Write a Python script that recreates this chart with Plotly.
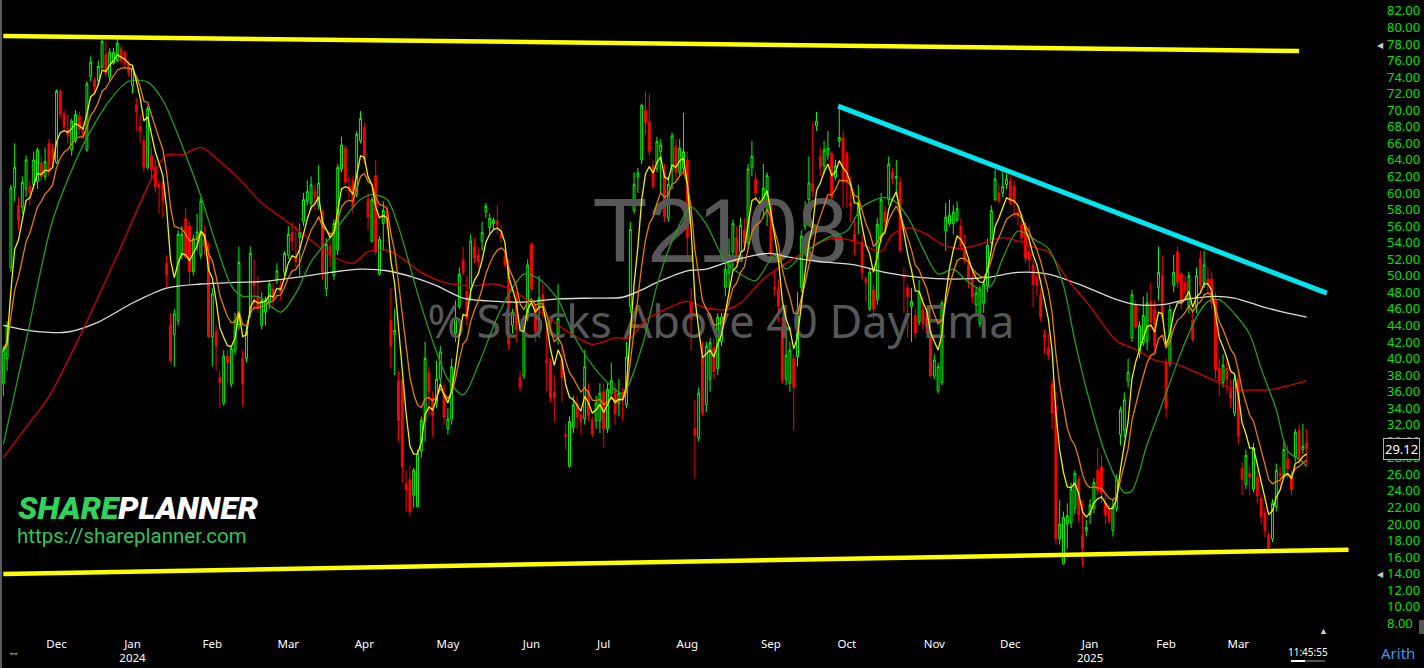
import numpy as np
import pandas as pd
import plotly.graph_objects as go

# ---------------- data (T2108 daily candles) ----------------
holidays = ["2023-11-23", "2023-12-25", "2024-01-01", "2024-01-15", "2024-02-19",
            "2024-03-29", "2024-05-27", "2024-06-19", "2024-07-04", "2024-09-02",
            "2024-11-28", "2024-12-25", "2025-01-01", "2025-01-09", "2025-01-20",
            "2025-02-17"]
first_day = "2023-11-10"
last_day = "2025-03-27"

opens = [37, 40, 51, 60.6, 58.5, 58.3, 60.5, 60.8, 61, 61.4, 63.6, 62, 66, 65.5, 63.7, 72.3, 69.5, 67.7, 65.2, 66.3,
         69.3, 67.5, 65.2, 74.1, 73.6, 73.6, 75.2, 76.7, 74, 75.7, 76, 77.4, 77, 75.6, 73, 70.6, 68, 66.3, 63.1, 64.5,
         63.1, 61, 61.3, 51.5, 44, 42.9, 44.6, 52.5, 56.9, 56, 50.5, 54.5, 52.5, 55, 52.4, 42.6, 43.2, 37.7, 34.6, 40.3,
         36.9, 41, 44.1, 40, 40, 45.5, 49.3, 47.5, 44, 45.6, 46.7, 48.4, 49.6, 48.8, 50.4, 52.5, 55.2, 52.3, 54.6, 56.5,
         59, 58.8, 60.2, 58.5, 57.7, 48.4, 53.6, 50, 53.1, 62.9, 65.4, 60.8, 61.5, 59.8, 66.3, 67.9, 59.2, 54.2, 62.1, 50.2,
         56.3, 57.9, 44.6, 42.9, 37.3, 37.3, 24.8, 25.4, 23.5, 22.1, 28.8, 32.5, 38.3, 35.2, 34.6, 37.5, 35.8, 31.5, 32.7, 43,
         46.3, 51.9, 48.1, 48.4, 53.5, 52.5, 54.2, 57.7, 55.8, 56.3, 56.6, 55.2, 52.3, 51, 44, 47.1, 37.7, 37.9, 45, 53.8,
         46.3, 46.3, 47.7, 39.8, 39.6, 35.9, 43, 39.8, 30.8, 27, 31.7, 34.6, 33.1, 32.7, 36.2, 32.5, 32.5, 32.5, 36, 31.5,
         35.8, 36.3, 34.6, 35.7, 34.4, 46.3, 57.9, 62, 64, 70, 68.5, 63.3, 62.9, 65, 62.5, 57, 62.9, 65.6, 62.5, 63,
         64, 46.7, 31.5, 30.4, 40.2, 34.4, 37.5, 41.3, 38.8, 42, 48.6, 50.4, 52.9, 54.6, 52.9, 55.5, 54, 63.1, 61.7, 58.5,
         58.8, 58, 58.5, 48.6, 48.3, 43.8, 37.5, 37, 40, 40.2, 48.6, 56, 59.2, 61.1, 68.1, 64.4, 63.3, 64.6, 64.8, 61.9,
         66.3, 66.7, 64.8, 58.8, 55, 57.3, 54, 49.6, 46, 48.3, 47.1, 54.6, 57.7, 59.2, 62.5, 61.8, 61.3, 50, 48.5, 46.3,
         45.2, 44.4, 45.9, 45, 43.3, 37.9, 36.1, 37.1, 55.4, 56.3, 56.3, 56.7, 56, 53.5, 51.3, 49.8, 46.5, 44.2, 46.7, 48.8,
         54, 59.2, 60, 60, 61, 61.4, 60.8, 57.7, 56.2, 55.8, 52.9, 51.3, 49.8, 47.7, 42.9, 41.3, 36.9, 34.2, 18.2, 15.2,
         20, 20.2, 21.9, 25.4, 18.6, 19.2, 21.1, 21.9, 26.5, 26.9, 22.5, 21.7, 19.2, 21.9, 30.8, 31.3, 37.3, 42.5, 46.5, 40.6,
         41.9, 42.1, 46.9, 45.9, 48.6, 50, 39.6, 39.4, 48.8, 52.9, 50.2, 49.2, 46.3, 44.6, 46.3, 52.1, 49.2, 49.6, 49.6, 47.1,
         38.8, 37.1, 38.8, 36.2, 33.4, 37.5, 26.7, 24.8, 26.1, 24.2, 25.7, 23.1, 21.3, 18.6, 18.2, 22.1, 26.1, 25.9, 27.9, 25.7,
         28.1, 31.3, 29, 29.8]
highs = [41.5, 44.5, 61, 66, 59.5, 62, 64.5, 61.5, 65, 65.5, 64.5, 65.5, 66.5, 66, 72.5, 72.5, 70, 69.5, 69, 70,
         69.8, 68.5, 73.5, 76.5, 74, 76, 78.5, 78.3, 77.5, 77.5, 78.6, 77.8, 77.2, 76, 75.5, 71.5, 69.5, 67, 70.5, 65.5,
         64, 61.5, 61.5, 52.5, 45.5, 46, 55.5, 56, 58.2, 56.5, 55, 57.5, 59.5, 56, 54, 48.5, 44, 38.5, 41, 41,
         41.5, 45.5, 53.5, 41, 44, 53.5, 52, 50, 48, 47.5, 49.5, 49, 51.5, 49.5, 53, 56, 56.5, 56, 56.3, 60,
         61.5, 62, 61, 63.4, 58, 54.5, 55, 56.8, 63.5, 66.8, 65.8, 62, 62, 67.5, 69.9, 68.5, 60, 59.5, 64, 54.8,
         59, 58.5, 48.5, 46, 38.5, 37.5, 26.5, 27, 26.8, 29, 33, 42, 39, 36, 39.7, 41.5, 37, 34, 40, 47,
         51, 53.5, 50, 55, 54.5, 53.5, 56.5, 58.8, 57.5, 57, 58.5, 56, 53, 52, 46, 48, 38.5, 43.5, 52, 54,
         46.5, 50, 49, 44, 40, 38, 49, 41.5, 32, 33, 35.5, 35.5, 33.5, 41, 37, 33, 35.5, 37, 37, 37,
         39.5, 37, 37.5, 36.5, 42, 56.5, 62.5, 63, 70.8, 72.3, 72, 64, 66.8, 66.5, 63.5, 62, 67.3, 66.5, 66.5, 69.7,
         65, 48.5, 35, 36.5, 42, 42, 42.5, 42.5, 45.5, 45.5, 52, 54.5, 56.8, 56, 57, 57, 63.5, 66.3, 62.5, 59.5,
         63.5, 62.5, 59.5, 50.5, 49.5, 45, 44, 42, 40.5, 48, 55.5, 59, 64.4, 68.5, 69.8, 65.5, 66.3, 67.5, 65, 64,
         70.1, 67.5, 65, 62, 57, 61, 55, 50, 51, 49, 57, 60, 58.5, 64.4, 63, 64, 62, 51, 49, 48.5,
         46, 49.5, 47.5, 46, 44, 40.5, 39.5, 47, 58.8, 59.2, 58.5, 59, 57, 55, 52, 50.5, 48.5, 48.8, 49.5, 54.5,
         58.5, 62.8, 61, 62.5, 62.3, 62, 61.5, 58.5, 57.5, 56.5, 56, 52, 50.5, 48.5, 43.5, 43, 37.5, 36, 22.9, 21.5,
         22.5, 25, 26.5, 25.8, 22.8, 20.5, 23, 25.5, 29.2, 28.3, 23.5, 22.5, 23, 26, 34.2, 35.9, 40, 48.3, 47, 44.5,
         47.5, 48, 49.2, 47, 53.5, 52.5, 40, 46.5, 52.5, 53.5, 50.5, 50, 50.5, 46, 51, 53, 53, 51, 50.5, 48,
         40, 40.5, 40, 37.5, 38, 38.5, 27.5, 29, 27, 29.8, 26.5, 23.8, 22, 19, 23, 27.3, 27, 30, 29.5, 26.5,
         31.5, 32, 32.1, 31.5]
lows = [35.5, 38.5, 50.5, 59, 55.5, 57.5, 59.5, 58.5, 60.5, 60.5, 61.5, 61.5, 62, 63, 63.5, 69, 67.5, 66, 64.5, 66,
        67, 66.5, 65, 73.5, 72, 73, 75, 74, 73.5, 75.5, 75.8, 75.5, 75, 74, 72, 67.5, 66, 62.5, 62.8, 61.5,
        60, 57.5, 57, 48.5, 39.5, 39, 44, 52, 52, 49, 50, 53, 52, 52.5, 42.5, 39, 38.5, 34, 34.3, 37,
        36.5, 40.5, 43.5, 34.2, 39.5, 45, 46, 45.5, 43.5, 44, 46, 46, 49, 47, 50, 52, 53, 51, 50, 56,
        58.5, 58, 58, 58, 49.5, 47.5, 51, 49.5, 52.5, 62.5, 61, 59.5, 57.5, 59.5, 66, 63.5, 55.5, 54, 52.5, 50,
        53, 55.5, 38.8, 38, 30, 25, 21.5, 20.9, 22, 22, 28, 30, 33, 30.5, 34, 37, 32, 30.8, 32, 42,
        46, 50, 44, 47, 51.5, 51, 53, 57, 55, 55.5, 55, 54, 51, 41, 43, 42, 36, 37.5, 44.5, 48,
        42, 42.5, 45, 36, 34.7, 32.3, 41.7, 34.7, 29, 26.8, 31, 31.5, 30.8, 32, 32.5, 30.5, 31.5, 31, 29.2, 31,
        35.5, 32, 33, 32.5, 34, 45.5, 57.5, 60, 63.5, 67, 64.5, 60.5, 62.5, 60, 56.5, 56.5, 60.5, 61.5, 62, 62.5,
        51.6, 41, 25.5, 30, 33, 33.5, 36, 37.5, 38, 41.5, 47.5, 48.5, 51, 51.5, 52, 53, 53.5, 62, 59, 56.5,
        57, 56, 52, 47.5, 44.5, 36.9, 36.8, 36, 31.3, 39, 48, 55.5, 58.5, 59.5, 67.5, 62, 62.3, 64, 59, 61.5,
        65.5, 58.2, 58.2, 56.5, 52.5, 55, 49.5, 46.8, 45.7, 44.8, 46.5, 54, 55, 58.5, 61, 59.5, 52.8, 45.5, 42.5, 42,
        42.5, 44, 43.5, 43, 37.8, 37.5, 35.8, 36.8, 53, 56, 55, 56.5, 53, 51.5, 48.5, 46.7, 45.5, 43.8, 45.5, 48,
        53.5, 59, 58.8, 59.5, 60.5, 58.5, 57, 56, 54, 51.5, 50.5, 46.2, 47.5, 44.5, 40.5, 39.8, 31.5, 17.5, 17.5, 15.1,
        17, 19.5, 21.2, 20.2, 14.8, 18.5, 20, 21.3, 23.5, 22.5, 20, 20, 18.5, 21.5, 29.5, 30.5, 36.5, 42, 43.5, 40,
        41.5, 41, 43.5, 40.5, 47, 44.5, 32.8, 39, 48, 48.5, 46, 47, 45.5, 42, 45.5, 48, 48.5, 47.8, 46, 37.5,
        35.5, 36.5, 35.8, 34, 33, 29.6, 23.5, 24.2, 23.5, 23.8, 22.5, 20, 18.4, 16.8, 17.8, 21.5, 24.5, 25.5, 25.5, 23.5,
        27.5, 27.3, 28.5, 27]
closes = [41, 44, 60.6, 63.1, 56.7, 61.3, 64, 60, 64, 65.2, 62, 63.8, 62.5, 64, 72.3, 69.5, 68, 66.9, 68.7, 69.5,
          67.7, 66.9, 73.2, 75.8, 72.8, 75.3, 78.3, 74.4, 77, 77, 78.1, 76, 75.6, 74.5, 75, 69.8, 67.5, 63.1, 70.2, 62.8,
          60.8, 60.7, 59.1, 50.1, 39.7, 45.4, 55, 55, 52.2, 50.5, 54.5, 55.3, 59, 53.5, 42.6, 47.8, 41.5, 37.1, 40.3, 39.5,
          41.2, 44.6, 51.6, 36.9, 43.3, 52.7, 48.8, 46, 47, 47.1, 49, 47.1, 50.6, 48, 52.7, 55, 54.2, 51.7, 55.2, 59.2,
          60.2, 61, 59.6, 61.2, 50.4, 53.8, 52.7, 56.3, 63.1, 65.8, 61.3, 60.2, 58.3, 67.1, 69, 64, 57.1, 59.2, 52.9, 54.4,
          57.9, 56.3, 41.5, 43.4, 32.5, 26.9, 24.2, 21.5, 26.5, 28.5, 32.5, 40, 36, 33.1, 37.5, 40.8, 32.9, 32.7, 39, 45,
          50.2, 50.4, 44.8, 54.2, 52.1, 51.7, 55.2, 58.4, 56.9, 56.7, 56.2, 54.6, 51.3, 41.7, 45.6, 43.5, 36.5, 43.1, 51.3, 48.4,
          43.3, 47.3, 46.5, 39.5, 35.3, 35.3, 44.8, 37.7, 30.6, 32.4, 34.4, 32.9, 32.3, 39, 33.1, 30.9, 34.6, 35.8, 31.5, 36.3,
          37.3, 33.3, 35.8, 35, 40.2, 55.6, 61, 62.4, 70.6, 68.5, 65, 60.8, 66.2, 65.8, 57.1, 61, 66.9, 62.5, 65.4, 65,
          54.6, 44.8, 30.7, 35.8, 33.4, 41.5, 41.9, 38.4, 45, 45, 50.8, 52.5, 56.3, 51.9, 56.1, 54, 62.9, 64.4, 60, 57.5,
          60.6, 62.1, 52.5, 48.4, 46.3, 37.3, 40.4, 41, 36.5, 45.2, 54.8, 57.9, 61.2, 60.2, 68.7, 63.1, 65.2, 65.4, 59.4, 63.3,
          66.7, 61.3, 61.3, 58.4, 54.2, 58.7, 50.4, 49.2, 50.4, 46, 56.2, 59.2, 56.5, 63.5, 61.7, 62, 53.1, 49.8, 47.5, 46.9,
          43.1, 48, 44.2, 43.8, 37.9, 39.8, 39, 46.7, 57.1, 57.3, 57.7, 58.1, 53.5, 51.9, 49.6, 47.5, 47.9, 48.3, 49, 53.7,
          57.9, 61.7, 59, 60.8, 61.7, 58.8, 58.8, 57.3, 54.6, 52.1, 51.9, 49, 48.8, 45, 42.5, 40.4, 33.4, 18.2, 20, 20.8,
          21, 24.2, 26.1, 21.1, 17.1, 19.6, 22.3, 25, 24, 23.8, 21.1, 20.4, 22.1, 25.4, 33.8, 35, 38.3, 47.7, 43.8, 44,
          45.2, 46.7, 44.4, 41.5, 50.4, 45, 34, 45.9, 50.4, 49.2, 46.7, 48.1, 50, 42.3, 50, 48.8, 51.3, 49, 46.7, 38.6,
          37.3, 39.2, 37.5, 35.2, 37.5, 30.6, 25.4, 28.3, 25.7, 29.2, 23.4, 20.9, 19.2, 17.1, 22.5, 26.5, 25.9, 29, 26.7, 24.2,
          31.1, 27.9, 29.4, 29.12]

# slower moving averages (bar number, value)
ma20_bar = [0, 6, 13, 21, 28, 33, 38, 42, 47, 52, 56, 60, 63, 67, 73, 77, 81, 86, 90, 94, 97, 101, 104, 109, 113,
            117, 121, 125, 130, 134, 137, 141, 146, 150, 155, 159, 163, 168, 172, 176, 181, 185, 190, 194, 198,
            203, 206, 211, 217, 222, 226, 231, 234, 238, 242, 246, 250, 253, 257, 260, 263, 267, 272, 275, 279,
            282, 286, 290, 295, 297, 301, 306, 310, 314, 317, 320, 324, 328, 331, 335, 338, 342, 343]
ma20_val = [29.6, 42.1, 56.7, 65.8, 71.2, 73.5, 73.4, 71.2, 65.8, 59.6, 53.8, 48.8, 47.5, 47.5, 45.6, 47.9, 51.7, 54.6,
            57.1, 59.2, 59.8, 59.2, 55.9, 47.9, 42.1, 37.5, 35.6, 39.2, 45, 48.5, 50.2, 49.6, 47.1, 42.9, 39.2, 37.1,
            35.8, 41.3, 48.8, 54.2, 58.3, 56.2, 51.7, 50.2, 49.4, 52.5, 50.8, 52.9, 54.6, 55.4, 58.3, 59.4, 59.2,
            57.1, 53.3, 50.2, 50.8, 49.6, 48.4, 48.8, 52.1, 55.4, 54.2, 53.3, 48.8, 42.1, 34.6, 28.5, 23.8, 24, 29.6,
            35.8, 40.8, 45, 46.9, 47.1, 45.4, 42.9, 38.8, 33.8, 28.8, 27.5, 26.9]
ma50_bar = [0, 6, 12, 21, 30, 39, 43, 47, 52, 56, 62, 68, 73, 79, 86, 92, 96, 101, 105, 110, 116, 123, 129, 133, 137,
            142, 148, 155, 161, 165, 169, 176, 180, 185, 190, 194, 200, 206, 211, 217, 222, 226, 231, 234, 238,
            243, 247, 252, 257, 263, 267, 272, 275, 280, 286, 293, 298, 303, 308, 314, 319, 324, 328, 333, 338, 343]
ma50_val = [28, 31.7, 35.4, 43.5, 52.5, 61.7, 64.6, 64.6, 65.5, 64.2, 61.7, 58.8, 57.1, 55, 52.5, 51.5, 52.9, 53.1,
            52.1, 50.4, 49.2, 48.8, 49, 48.5, 47.3, 45.4, 43.4, 41.7, 42.5, 42.5, 44.6, 46.3, 46.9, 46.1, 45.9, 46.7,
            49.6, 51.5, 52.9, 54.4, 54.4, 53.8, 52.9, 55, 55.8, 55, 53.8, 53.3, 53.8, 54.6, 54.2, 53.3, 52.9, 49.6,
            46.3, 42.1, 41.1, 39.8, 39.4, 38.3, 37.3, 36.2, 36.2, 36.2, 36.7, 37.3]
ma200_bar = [0, 8, 17, 25, 34, 43, 52, 61, 68, 77, 86, 94, 101, 108, 114, 121, 130, 137, 146, 155, 163, 168, 172,
             180, 185, 191, 198, 202, 206, 215, 224, 232, 241, 250, 259, 267, 275, 284, 293, 298, 305, 312, 319,
             324, 331, 336, 343]
ma200_val = [44, 43.3, 43.2, 44.4, 46.7, 48.5, 49, 49.2, 49.3, 49.8, 50.4, 50.8, 50.6, 49.8, 48.8, 47.3, 46.9, 46.8,
             47.2, 47.3, 47.4, 48.3, 49.2, 50.6, 50.8, 51.7, 52.5, 52.7, 52.3, 51.7, 51.3, 50.4, 49.8, 49.6, 49.8,
             50.4, 50.2, 48.8, 47.1, 46.5, 46.5, 47.2, 47.5, 47.3, 46.3, 45.7, 45]

# hand-drawn trend lines (bar number, value)
upper_channel_bar = [0, 341]
upper_channel_val = [78.97, 77.15]
lower_channel_bar = [0, 354]
lower_channel_val = [13.96, 16.9]
down_trend_bar = [219.7, 348.3]
down_trend_val = [70.5, 47.9]

symbol = "T2108"
subtitle = "% Stocks Above 40 Day Ema"
last_time = "11:45:55"
alert_levels = [78, 14]

# ---------------- derived ----------------
dates = pd.bdate_range(first_day, last_day, freq="C", holidays=holidays)
n = len(closes)
bars = np.arange(n)
dates = list(dates[:n])

tickvals, ticktext = [], []
for k in range(1, n):
    if dates[k].month != dates[k - 1].month:
        tickvals.append(k)
        lab = dates[k].strftime("%b")
        if dates[k].month == 1:
            lab += "<br>" + str(dates[k].year)
        ticktext.append(lab)

cs = pd.Series(closes, dtype=float)
ema_fast = cs.ewm(span=5, adjust=False).mean()
ema_mid = cs.ewm(span=10, adjust=False).mean()

# ---------------- geometry helpers (screen px -> data) ----------------
W, H = 1424, 668
ML, MR, MT, MB = 0, 62, 0, 33
PLOT_W = W - ML - MR
PLOT_H = H - MT - MB
BAR_PX = 3.8
BAR0_PX = 3.3
X0 = (0 - BAR0_PX) / BAR_PX
X1 = (PLOT_W - BAR0_PX) / BAR_PX
PX_PER_UNIT = 8.276
Y_TOP = 78 + 44 / PX_PER_UNIT
Y_BOT = 78 - (PLOT_H - 44) / PX_PER_UNIT


def bx(px):
    return (px - BAR0_PX) / BAR_PX


def vy(py):
    return 78 - (py - 44) / PX_PER_UNIT


def paper_x(px):
    return (px - ML) / PLOT_W


def paper_y(py):
    return (PLOT_H - (py - MT)) / PLOT_H


fig = go.Figure()

# watermark (drawn first so candles sit on top)
fig.add_trace(go.Scatter(
    x=[bx(720)], y=[vy(239)], mode="text", text=[symbol],
    textfont=dict(family="Liberation Sans Narrow, Liberation Sans, sans-serif", size=90, color="#575757"),
    hoverinfo="skip", showlegend=False, cliponaxis=False))
fig.add_trace(go.Scatter(
    x=[bx(721)], y=[vy(327)], mode="text", text=[subtitle],
    textfont=dict(family="Noto Sans, sans-serif", size=45, color="#575757"),
    hoverinfo="skip", showlegend=False, cliponaxis=False))

fig.add_trace(go.Candlestick(
    x=bars, open=opens, high=highs, low=lows, close=closes,
    increasing=dict(line=dict(color="#00ff00", width=1), fillcolor="#000000"),
    decreasing=dict(line=dict(color="#ff0000", width=1), fillcolor="#ff0000"),
    whiskerwidth=0, showlegend=False, hoverinfo="skip"))

fig.add_trace(go.Scatter(x=ma200_bar, y=ma200_val, mode="lines", line=dict(color="#dcdcdc", width=1.3, shape="spline", smoothing=0.8),
                         hoverinfo="skip", showlegend=False))
fig.add_trace(go.Scatter(x=ma50_bar, y=ma50_val, mode="lines", line=dict(color="#d40000", width=1.3, shape="spline", smoothing=0.8),
                         hoverinfo="skip", showlegend=False))
fig.add_trace(go.Scatter(x=ma20_bar, y=ma20_val, mode="lines", line=dict(color="#1f9f1f", width=1.3, shape="spline", smoothing=0.8),
                         hoverinfo="skip", showlegend=False))
fig.add_trace(go.Scatter(x=bars, y=ema_mid, mode="lines", line=dict(color="#e67e00", width=1.3),
                         hoverinfo="skip", showlegend=False))
fig.add_trace(go.Scatter(x=bars, y=ema_fast, mode="lines", line=dict(color="#f0f000", width=1.3),
                         hoverinfo="skip", showlegend=False))

fig.add_trace(go.Scatter(x=upper_channel_bar, y=upper_channel_val, mode="lines", line=dict(color="#ffff00", width=4.5),
                         hoverinfo="skip", showlegend=False, cliponaxis=False))
fig.add_trace(go.Scatter(x=lower_channel_bar, y=lower_channel_val, mode="lines", line=dict(color="#ffff00", width=4.5),
                         hoverinfo="skip", showlegend=False, cliponaxis=False))
fig.add_trace(go.Scatter(x=down_trend_bar, y=down_trend_val, mode="lines", line=dict(color="#00e5ee", width=5),
                         hoverinfo="skip", showlegend=False, cliponaxis=False))

annotations = [
    dict(xref="paper", yref="paper", x=paper_x(16), y=paper_y(508), xanchor="left", yanchor="middle",
         text="<span style='color:#2fd35b'>SHARE</span><span style='color:#ffffff'>PLANNER</span>",
         showarrow=False, font=dict(family="Roboto, sans-serif", size=32, weight=900, style="italic")),
    dict(xref="paper", yref="paper", x=paper_x(15), y=paper_y(536), xanchor="left", yanchor="middle",
         text="https://shareplanner.com", showarrow=False,
         font=dict(family="Roboto, sans-serif", size=20.5, color="#2fc558")),
    dict(xref="paper", yref="y", x=1, y=closes[-1], xanchor="left", yanchor="middle", xshift=21,
         text="%.2f" % closes[-1], showarrow=False, bgcolor="#000000", bordercolor="#b0b0b0", borderwidth=1,
         borderpad=1, font=dict(family="Noto Sans, sans-serif", size=13, color="#ffffff")),
    dict(xref="paper", yref="paper", x=paper_x(1323), y=paper_y(630), xanchor="center", yanchor="middle",
         text="▲", showarrow=False, font=dict(size=9, color="#d0d0d0")),
    dict(xref="paper", yref="paper", x=paper_x(1308), y=paper_y(652), xanchor="center", yanchor="middle",
         text=last_time, showarrow=False, font=dict(family="Noto Sans, sans-serif", size=10, color="#ffffff")),
    dict(xref="paper", yref="paper", x=paper_x(1398), y=paper_y(653), xanchor="center", yanchor="middle",
         text="Arith", showarrow=False, font=dict(family="Noto Sans, sans-serif", size=15, color="#3d9be9")),
    dict(xref="paper", yref="paper", x=paper_x(13), y=paper_y(652), xanchor="center", yanchor="middle",
         text="⇔", showarrow=False, font=dict(size=13, color="#c8c8c8")),
]
for lvl in alert_levels:
    annotations.append(dict(xref="paper", yref="y", x=1, y=lvl, xanchor="center", yanchor="middle", xshift=18,
                            text="◀", showarrow=False, font=dict(size=8, color="#c8c8c8")))

shapes = [
    dict(type="line", xref="paper", yref="paper", x0=paper_x(1), x1=paper_x(1), y0=paper_y(668), y1=1,
         line=dict(color="#5a5a5a", width=2)),
    dict(type="line", xref="paper", yref="paper", x0=paper_x(1291), x1=paper_x(1305), y0=paper_y(661), y1=paper_y(661),
         line=dict(color="#ffffff", width=2)),
    dict(type="line", xref="paper", yref="paper", x0=paper_x(1305), x1=paper_x(1325), y0=paper_y(661), y1=paper_y(661),
         line=dict(color="#555555", width=2)),
    dict(type="rect", xref="paper", yref="paper", x0=paper_x(1419), x1=paper_x(1424), y0=paper_y(634), y1=paper_y(620),
         fillcolor="#555555", line=dict(width=0)),
]

fig.update_layout(
    width=W, height=H, autosize=False,
    margin=dict(l=ML, r=MR, t=MT, b=MB),
    paper_bgcolor="#000000", plot_bgcolor="#000000",
    showlegend=False,
    annotations=annotations, shapes=shapes,
    hovermode=False,
    xaxis=dict(range=[X0, X1], tickvals=tickvals, ticktext=ticktext, showgrid=False, zeroline=False,
               showline=False, ticks="", rangeslider=dict(visible=False), fixedrange=True,
               tickfont=dict(family="Noto Sans, sans-serif", size=11.5, color="#ffffff")),
    yaxis=dict(range=[Y_BOT, Y_TOP], side="right", dtick=2, tick0=0, tickformat=".2f", showgrid=False,
               zeroline=False, showline=False, ticks="", fixedrange=True, ticklabelstandoff=24,
               tickfont=dict(family="Noto Sans, sans-serif", size=13, color="#00e400")),
)

fig.write_html("out.html", config={"displayModeBar": False, "staticPlot": False},
               post_script="document.body.style.margin='0';document.body.style.padding='0';"
                           "document.body.style.overflow='hidden';document.body.style.background='#000';")
